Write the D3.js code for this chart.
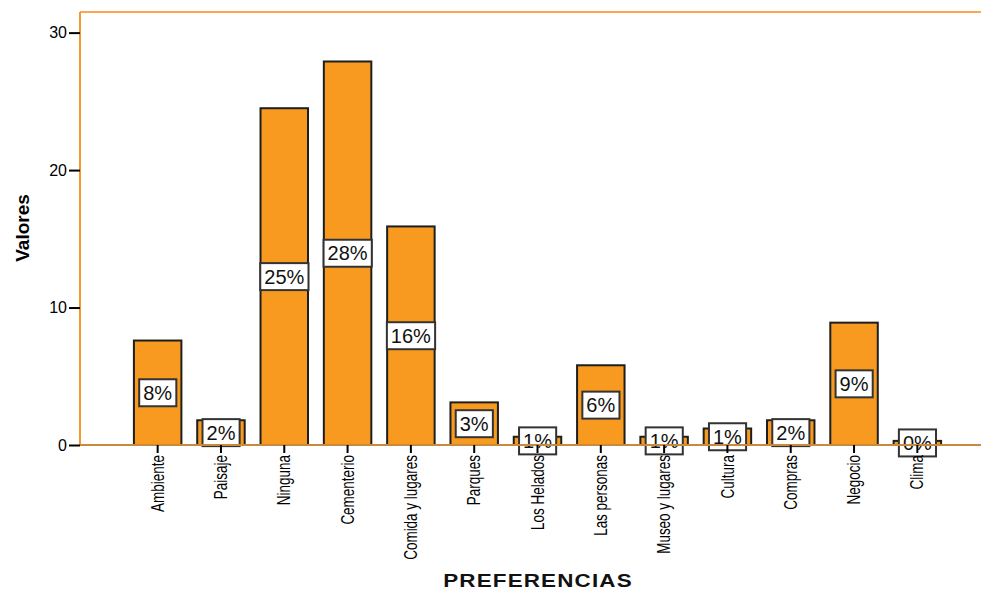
<!DOCTYPE html>
<html>
<head>
<meta charset="utf-8">
<script src="https://cdn.jsdelivr.net/npm/d3@7"></script>
<style>
  html, body { margin: 0; padding: 0; background: #fff; }
  svg { display: block; }
</style>
</head>
<body>
<svg id="chart" width="981" height="590"></svg>
<script>
// Preferencias declaradas (porcentaje de respuestas)
const categories = ["Ambiente", "Paisaje", "Ninguna", "Cementerio", "Comida y lugares",
  "Parques", "Los Helados", "Las personas", "Museo y lugares", "Cultura",
  "Compras", "Negocio", "Clima"];
const values = [7.6, 1.8, 24.5, 27.9, 15.9, 3.1, 0.6, 5.8, 0.6, 1.2, 1.8, 8.9, 0.3];
const yTicks = [0, 10, 20, 30];
const yTitle = "Valores";
const xTitle = "PREFERENCIAS";

const data = categories.map((c, i) => ({ cat: c, value: values[i] }));

const plot = { left: 80, top: 12, right: 981, bottom: 445 };

const svg = d3.select("#chart");

const x = d3.scaleBand()
  .domain(categories)
  .range([126, 949])
  .paddingInner(0.25)
  .paddingOuter(0.125);

const y = d3.scaleLinear()
  .domain([0, 31.5])
  .range([plot.bottom, plot.top]);

// Top border of the plot area
svg.append("line")
  .attr("x1", plot.left).attr("x2", plot.right)
  .attr("y1", plot.top).attr("y2", plot.top)
  .attr("stroke", "#F6A94E").attr("stroke-width", 2);

// Bars
svg.append("g").selectAll("rect")
  .data(data)
  .join("rect")
  .attr("x", d => x(d.cat))
  .attr("y", d => y(d.value))
  .attr("width", x.bandwidth())
  .attr("height", d => y(0) - y(d.value))
  .attr("fill", "#F89A20")
  .attr("stroke", "#1e1e1e")
  .attr("stroke-width", 2);

// Percentage labels in white boxes at mid-height of each bar
const lab = svg.append("g").selectAll("g")
  .data(data)
  .join("g")
  .attr("transform", d => `translate(${x(d.cat) + x.bandwidth() / 2},${(y(0) + y(d.value)) / 2})`);

lab.append("text")
  .attr("text-anchor", "middle")
  .attr("dy", "0.36em")
  .attr("font-family", "Liberation Sans, Arial, sans-serif")
  .attr("font-size", 20)
  .attr("fill", "#111")
  .text(d => Math.round(d.value) + "%")
  .each(function () {
    const bb = this.getBBox();
    d3.select(this.parentNode).insert("rect", "text")
      .attr("x", bb.x - 4)
      .attr("y", -13.5)
      .attr("width", bb.width + 8)
      .attr("height", 27)
      .attr("fill", "#fff")
      .attr("stroke", "#333")
      .attr("stroke-width", 2);
  });

// Y axis
const yAxis = svg.append("g")
  .attr("transform", `translate(${plot.left},0)`)
  .call(d3.axisLeft(y).tickValues(yTicks).tickSize(11).tickPadding(2));
yAxis.select(".domain")
  .attr("d", `M0,${plot.top}V${plot.bottom}`)
  .attr("stroke", "#F39A2B").attr("stroke-width", 2);
yAxis.selectAll(".tick line").attr("stroke", "#000").attr("stroke-width", 2);
yAxis.selectAll(".tick text")
  .attr("font-family", "Liberation Sans, Arial, sans-serif")
  .attr("font-size", 16)
  .attr("fill", "#000");

// X axis with condensed vertical category labels
const xAxis = svg.append("g")
  .attr("transform", `translate(0,${plot.bottom})`)
  .call(d3.axisBottom(x).tickSize(8).tickPadding(2));
xAxis.select(".domain")
  .attr("d", `M${plot.left},0H${plot.right}`)
  .attr("stroke", "#C98A3C").attr("stroke-width", 2);
xAxis.selectAll(".tick line").attr("stroke", "#000").attr("stroke-width", 2);
xAxis.selectAll(".tick text")
  .attr("font-family", "Liberation Sans, Arial, sans-serif")
  .attr("font-size", 17.5)
  .attr("fill", "#000")
  .attr("transform", "rotate(-90) scale(0.77,1)")
  .attr("text-anchor", "end")
  .attr("x", -13)
  .attr("y", 0)
  .attr("dy", "0.35em");

// Axis titles
svg.append("text")
  .attr("transform", "translate(29,228) rotate(-90)")
  .attr("text-anchor", "middle")
  .attr("font-family", "Liberation Sans, Arial, sans-serif")
  .attr("font-weight", "bold")
  .attr("font-size", 19)
  .attr("fill", "#000")
  .text(yTitle);

// Wide bold horizontal title
svg.append("text")
  .attr("transform", "translate(538,587) scale(1.18,1)")
  .attr("text-anchor", "middle")
  .attr("font-family", "Liberation Sans, Arial, sans-serif")
  .attr("font-weight", "bold")
  .attr("font-size", 19)
  .attr("letter-spacing", 1)
  .attr("fill", "#111")
  .text(xTitle);
</script>
</body>
</html>
